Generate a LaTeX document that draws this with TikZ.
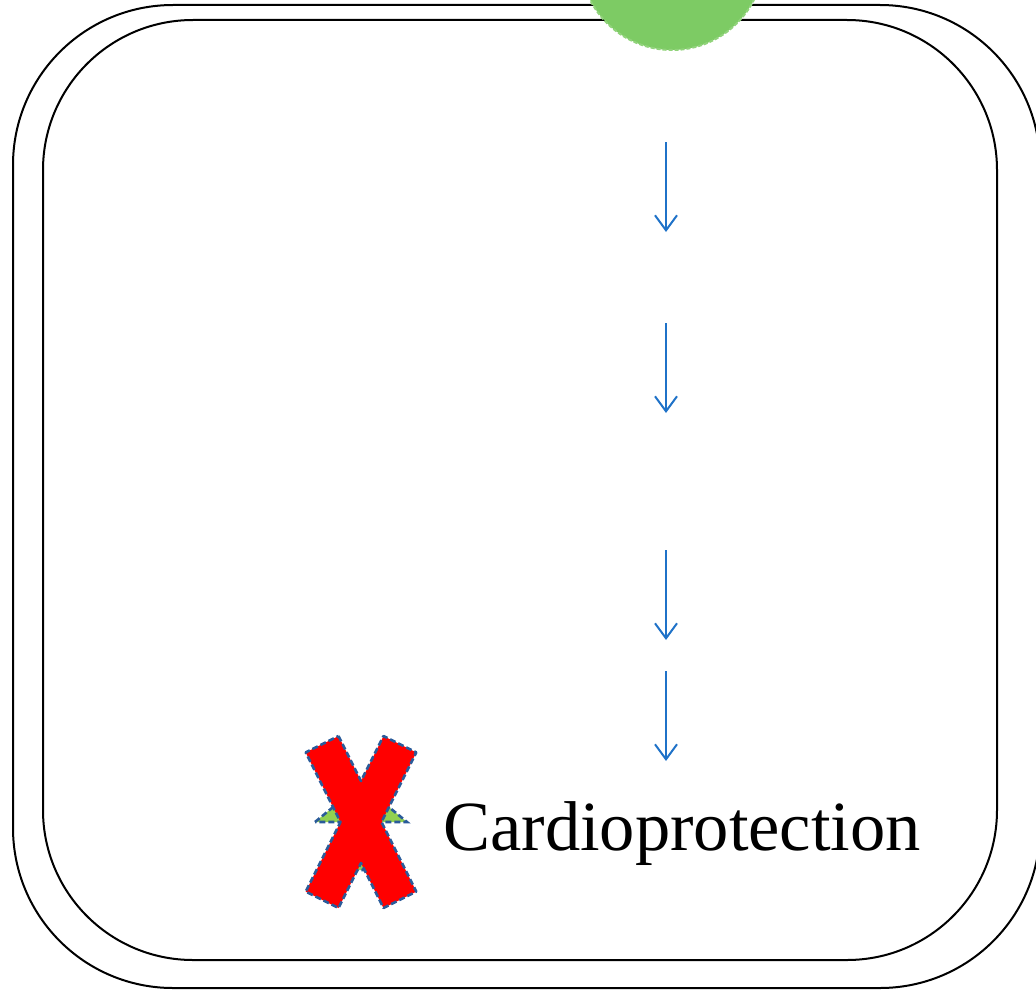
\documentclass[tikz,border=0pt]{standalone}
\usepackage{fontspec}
\setmainfont{Liberation Serif}
\usetikzlibrary{arrows.meta}
\definecolor{cellgreen}{HTML}{7DCB64}
\definecolor{trigreen}{HTML}{92D050}
\definecolor{xred}{HTML}{FF0000}
\definecolor{dashblue}{HTML}{2A5B9A}
\definecolor{arrowblue}{HTML}{1F72C8}
\tikzset{
  membrane/.style={draw=black, line width=2pt},
  flow/.style={draw=arrowblue, line width=2pt, -{Straight Barb[length=15pt, width=22pt, line width=2pt]}},
  dashedge/.style={draw=dashblue, line width=2.6pt, dash pattern=on 6pt off 3pt},
}
\begin{document}
\begin{tikzpicture}[x=1pt, y=-1pt]
\useasboundingbox (0,0) rectangle (1036,990);
\begin{scope}
\clip (0,0) rectangle (1036,990);
% membranes
\draw[membrane, rounded corners=160pt] (13,5) rectangle (1040,988);
\draw[membrane, rounded corners=150pt] (43,20) rectangle (997,960);
% green receptor at top
\fill[cellgreen] (672,-42) circle (92);
\draw[cellgreen!85!white, line width=2pt, dash pattern=on 4pt off 2pt] (672,-42) circle (92);
\end{scope}
% arrows
\coordinate (a1) at (666,142); \coordinate (b1) at (666,232);
\coordinate (a2) at (666,323); \coordinate (b2) at (666,413);
\coordinate (a3) at (666,550); \coordinate (b3) at (666,640);
\coordinate (a4) at (666,671); \coordinate (b4) at (666,761);
\draw[flow] (a1) -- (b1);
\draw[flow] (a2) -- (b2);
\draw[flow] (a3) -- (b3);
\draw[flow] (a4) -- (b4);
% green up arrow behind the cross
\begin{scope}[shift={(361,822)}, yscale=-1]
\filldraw[fill=trigreen, dashedge] (-46,0) -- (0,38) -- (46,0) -- (14,0) -- (14,-48) -- (-14,-48) -- (-14,0) -- cycle;
% red cross
\filldraw[fill=xred, dashedge, line join=round]
  (-22.5,86) -- (0,41) -- (22.5,86) -- (55.3,69.6) -- (20.5,0) -- (55.3,-69.6)
  -- (22.5,-86) -- (0,-41) -- (-22.5,-86) -- (-55.3,-69.6) -- (-20.5,0) -- (-55.3,69.6) -- cycle;
\end{scope}
% label
\node[anchor=base west, inner sep=0pt, font=\fontsize{70.5pt}{80pt}\selectfont] (cp) at (443,850) {Cardioprotection};
\end{tikzpicture}
\end{document}
